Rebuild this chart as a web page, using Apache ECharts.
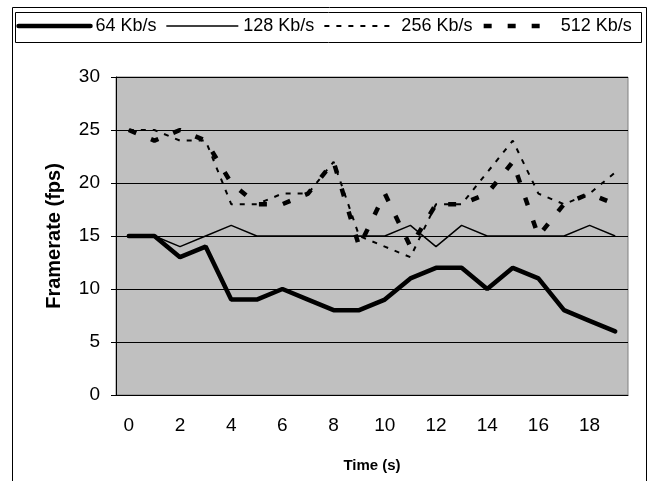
<!DOCTYPE html>
<html>
<head>
<meta charset="utf-8">
<script src="https://cdn.jsdelivr.net/npm/echarts@6/dist/echarts.min.js"></script>
<style>
  html, body { margin: 0; padding: 0; background: #fff; }
  #chart { width: 648px; height: 481px; }
</style>
</head>
<body>
<div id="chart"></div>
<script>
const timeLabels = ['0','1','2','3','4','5','6','7','8','9','10','11','12','13','14','15','16','17','18','19']
const fps64 = [15,15,13,14,9,9,10,9,8,8,9,11,12,12,10,12,11,8,7,6]
const fps128 = [15,15,14,15,16,15,15,15,15,15,15,16,14,16,15,15,15,15,16,15]
const fps256 = [25,25,24,24,18,18,19,19,22,15,14,13,18,18,21,24,19,18,19,21]
const fps512 = [25,24,25,24,20,18,18,19,22,14,19,14,18,18,19,22,15,18,19,18]

const font = 'Arial, "Liberation Sans", sans-serif'
const line64 = {color: '#000', width: 4.5, type: 'solid', cap: 'round'}
const line128 = {color: '#000', width: 1.5, type: 'solid'}
const line256 = {color: '#000', width: 2, type: [5, 7]}
const line512 = {color: '#000', width: 4.5, type: [8, 16]}
const noSymbol = {color: 'transparent', borderWidth: 0, opacity: 0}

let myChart = echarts.init(document.getElementById('chart'))
let option = {
  animation: false,
  color: ['#000'],
  backgroundColor: '#fff',
  graphic: [
    {type: 'rect', shape: {x: 12.5, y: 7.5, width: 634, height: 480}, style: {fill: null, stroke: '#000', lineWidth: 1}, silent: true},
    {type: 'rect', shape: {x: 15.5, y: 12.5, width: 626, height: 30}, style: {fill: null, stroke: '#000', lineWidth: 1}, silent: true}
  ],
  legend: {
    left: 'center',
    top: 17,
    padding: 0,
    itemWidth: 72,
    itemHeight: 18,
    itemGap: 9,
    textStyle: {fontFamily: font, fontSize: 18, color: '#000'},
    data: [
      {name: '64 Kb/s', lineStyle: line64, itemStyle: noSymbol},
      {name: '128 Kb/s', lineStyle: line128, itemStyle: noSymbol},
      {name: '256 Kb/s', lineStyle: line256, itemStyle: noSymbol},
      {name: '512 Kb/s', lineStyle: line512, itemStyle: noSymbol}
    ]
  },
  grid: {
    left: 116,
    top: 77,
    right: 20,
    bottom: 86,
    show: true,
    backgroundColor: '#c0c0c0',
    borderColor: '#808080',
    borderWidth: 1
  },
  xAxis: {
    type: 'category',
    data: timeLabels,
    boundaryGap: true,
    name: 'Time (s)',
    nameLocation: 'middle',
    nameGap: 63,
    nameTextStyle: {fontFamily: font, fontSize: 15, fontWeight: 'bold', color: '#000'},
    axisLine: {lineStyle: {color: '#000', width: 1}},
    axisTick: {interval: 1, length: 5, lineStyle: {color: '#000'}},
    axisLabel: {interval: 1, margin: 21, fontFamily: font, fontSize: 19, color: '#000'},
    splitLine: {show: false}
  },
  yAxis: {
    type: 'value',
    min: 0,
    max: 30,
    interval: 5,
    name: 'Framerate (fps)',
    nameLocation: 'middle',
    nameGap: 52,
    nameTextStyle: {fontFamily: font, fontSize: 20, fontWeight: 'bold', color: '#000'},
    axisLine: {show: true, lineStyle: {color: '#000', width: 1}},
    axisTick: {show: true, length: 5, lineStyle: {color: '#000'}},
    axisLabel: {margin: 16, fontFamily: font, fontSize: 19, color: '#000'},
    splitLine: {lineStyle: {color: '#000', width: 1}}
  },
  series: [
    {name: '64 Kb/s', type: 'line', data: fps64, symbol: 'none', lineStyle: line64},
    {name: '128 Kb/s', type: 'line', data: fps128, symbol: 'none', lineStyle: line128},
    {name: '256 Kb/s', type: 'line', data: fps256, symbol: 'none', lineStyle: line256},
    {name: '512 Kb/s', type: 'line', data: fps512, symbol: 'none', lineStyle: line512}
  ]
}
myChart.setOption(option)
</script>
</body>
</html>
